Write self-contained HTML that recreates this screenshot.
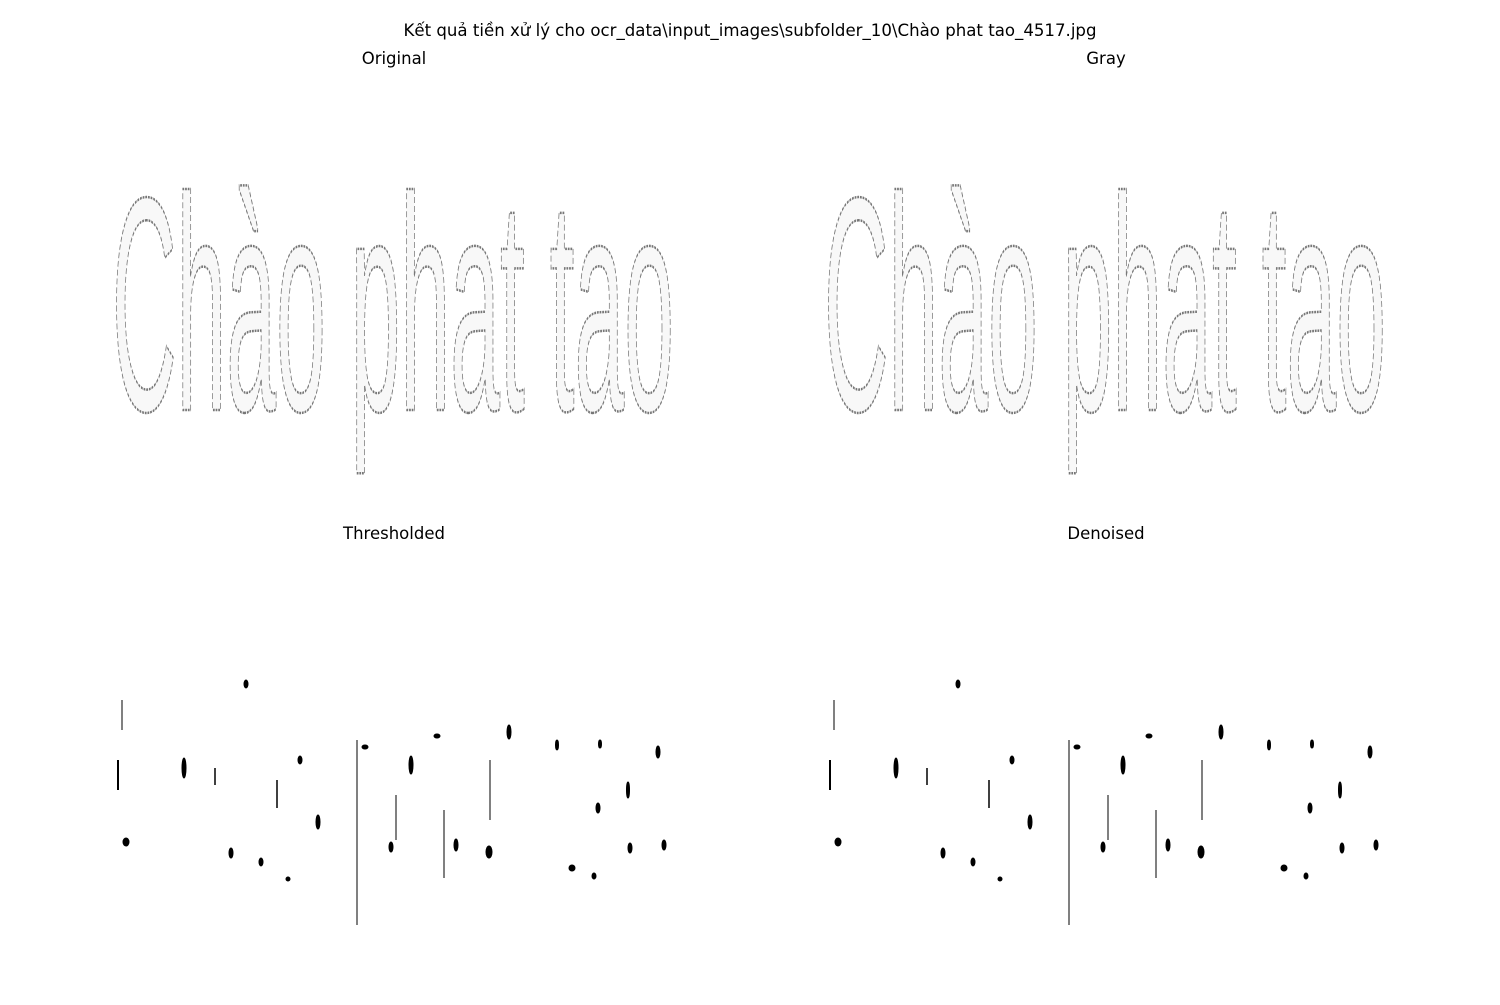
<!DOCTYPE html>
<html><head><meta charset="utf-8"><style>
html,body{margin:0;padding:0;background:#fff;}
body{width:1500px;height:1000px;overflow:hidden;font-family:"Liberation Sans","DejaVu Sans",sans-serif;}
</style></head><body>
<svg width="1500" height="1000" xmlns="http://www.w3.org/2000/svg">
<rect width="1500" height="1000" fill="#fff"/>
<text x="750" y="36" text-anchor="middle" font-size="16.6" font-family="DejaVu Sans, Liberation Sans, sans-serif">Kết quả tiền xử lý cho ocr_data\input_images\subfolder_10\Chào phat tao_4517.jpg</text>
<text x="394" y="64" text-anchor="middle" font-size="16.5" font-family="DejaVu Sans, sans-serif">Original</text>
<text x="1106" y="64" text-anchor="middle" font-size="16.5" font-family="DejaVu Sans, sans-serif">Gray</text>
<text x="394" y="539" text-anchor="middle" font-size="16.5" font-family="DejaVu Sans, sans-serif">Thresholded</text>
<text x="1106" y="539" text-anchor="middle" font-size="16.5" font-family="DejaVu Sans, sans-serif">Denoised</text>

<g>
<text x="112" y="410" font-size="305" textLength="562" lengthAdjust="spacingAndGlyphs" fill="#f8f8f8" stroke="#777" stroke-width="2.5" stroke-dasharray="6 3" font-family="Liberation Sans, sans-serif">Chào phat tao</text>
</g>
<g>
<text x="824" y="410" font-size="305" textLength="562" lengthAdjust="spacingAndGlyphs" fill="#f8f8f8" stroke="#777" stroke-width="2.5" stroke-dasharray="6 3" font-family="Liberation Sans, sans-serif">Chào phat tao</text>
</g>

<g id="thr" fill="#000" stroke="#000">
<line x1="357" y1="740" x2="357" y2="925" stroke-width="1"/>
<line x1="444" y1="810" x2="444" y2="878" stroke-width="1"/>
<line x1="490" y1="760" x2="490" y2="820" stroke-width="1"/>
<line x1="396" y1="795" x2="396" y2="840" stroke-width="1"/>
<line x1="277" y1="780" x2="277" y2="808" stroke-width="1.5"/>
<line x1="215" y1="768" x2="215" y2="785" stroke-width="1.5"/>
<line x1="118" y1="760" x2="118" y2="790" stroke-width="2"/>
<line x1="122" y1="700" x2="122" y2="730" stroke-width="1"/>
<ellipse cx="184" cy="768" rx="2" ry="10"/><ellipse cx="246" cy="684" rx="2" ry="4"/>
<ellipse cx="411" cy="765" rx="2" ry="9"/><ellipse cx="509" cy="732" rx="2" ry="7"/>
<ellipse cx="489" cy="852" rx="3" ry="6"/><ellipse cx="391" cy="847" rx="2" ry="5"/>
<ellipse cx="126" cy="842" rx="3" ry="4"/><ellipse cx="231" cy="853" rx="2" ry="5"/>
<ellipse cx="261" cy="862" rx="2" ry="4"/><ellipse cx="318" cy="822" rx="2" ry="7"/>
<ellipse cx="456" cy="845" rx="2" ry="6"/><ellipse cx="630" cy="848" rx="2" ry="5"/>
<ellipse cx="664" cy="845" rx="2" ry="5"/><ellipse cx="598" cy="808" rx="2" ry="5"/>
<ellipse cx="572" cy="868" rx="3" ry="3"/><ellipse cx="365" cy="747" rx="3" ry="2"/>
<ellipse cx="437" cy="736" rx="3" ry="2"/><ellipse cx="557" cy="745" rx="1.5" ry="5"/>
<ellipse cx="628" cy="790" rx="1.5" ry="8"/><ellipse cx="288" cy="879" rx="2" ry="2"/>
<ellipse cx="594" cy="876" rx="2" ry="3"/><ellipse cx="300" cy="760" rx="2" ry="4"/>
<ellipse cx="658" cy="752" rx="2" ry="6"/><ellipse cx="600" cy="744" rx="1.5" ry="4"/>
</g>
<use href="#thr" x="712" y="0"/>
</svg>
</body></html>
